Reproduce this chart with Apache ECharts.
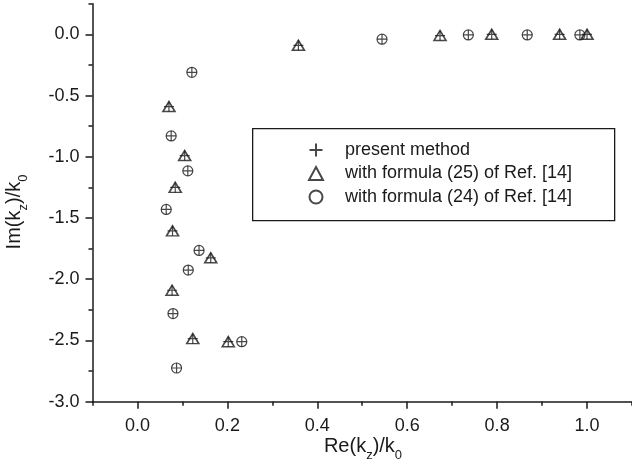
<!DOCTYPE html>
<html>
<head>
<meta charset="utf-8">
<script src="https://cdn.jsdelivr.net/npm/echarts@6/dist/echarts.min.js"></script>
<style>
html,body{margin:0;padding:0;background:#fff;}
#chart{width:632px;height:470px;}
</style>
</head>
<body>
<div id="chart"></div>
<script>
// ---- data ----
var seriesNames = ['present method', 'with formula (25) of Ref. [14]', 'with formula (24) of Ref. [14]'];

var tri25X = [0.358, 0.070, 0.105, 0.084, 0.078, 0.163, 0.077, 0.123, 0.202, 0.673, 0.788, 0.939, 1.000];
var tri25Y = [-0.09, -0.59, -0.99, -1.25, -1.605, -1.825, -2.09, -2.485, -2.51, -0.01, 0.0, 0.0, 0.0];

var circ24X = [0.121, 0.075, 0.112, 0.064, 0.137, 0.113, 0.079, 0.232, 0.087, 0.544, 0.736, 0.867, 0.984];
var circ24Y = [-0.31, -0.83, -1.115, -1.43, -1.765, -1.925, -2.28, -2.51, -2.725, -0.04, -0.005, -0.005, -0.005];

var presentX = [0.358, 0.070, 0.105, 0.084, 0.078, 0.163, 0.077, 0.123, 0.202, 0.673, 0.788, 0.939, 1.000,
                0.121, 0.075, 0.112, 0.064, 0.137, 0.113, 0.079, 0.232, 0.087, 0.544, 0.736, 0.867, 0.984];
var presentY = [-0.09, -0.59, -0.99, -1.25, -1.605, -1.825, -2.09, -2.485, -2.51, -0.01, 0.0, 0.0, 0.0,
                -0.31, -0.83, -1.115, -1.43, -1.765, -1.925, -2.28, -2.51, -2.725, -0.04, -0.005, -0.005, -0.005];

var xMajorTicks = [0.0, 0.2, 0.4, 0.6, 0.8, 1.0];
var xMinorTicks = [-0.1, 0.1, 0.3, 0.5, 0.7, 0.9, 1.1];
var yMajorTicks = [-3.0, -2.5, -2.0, -1.5, -1.0, -0.5, 0.0];
var yMinorTicks = [-2.75, -2.25, -1.75, -1.25, -0.75, -0.25, 0.25];

function pairs(xs, ys) { return xs.map(function (x, i) { return [x, ys[i]]; }); }

var ink = '#1a1a1a';
var fontFam = '"Liberation Sans", Arial, sans-serif';

var chart = echarts.init(document.getElementById('chart'), null, {renderer: 'canvas'});

var gridPos = {left: 92.5, top: 3.7, width: 541.5, height: 398};

var titleRich = {
  m: {fontSize: 20, lineHeight: 22, verticalAlign: 'top', fill: ink, fontFamily: fontFam},
  s: {fontSize: 13, lineHeight: 25, verticalAlign: 'bottom', fill: ink, fontFamily: fontFam}
};

var option = {
  animation: false,
  backgroundColor: '#ffffff',
  grid: gridPos,
  xAxis: [{
    type: 'value', min: -0.1, max: 1.1,
    axisLine: {show: true, onZero: false, lineStyle: {color: ink, width: 1.5}},
    axisTick: {show: true, inside: false, length: 7, customValues: xMajorTicks, lineStyle: {color: ink, width: 1.5}},
    axisLabel: {show: true, customValues: xMajorTicks, margin: 15, fontSize: 18, color: ink, fontFamily: fontFam,
      formatter: function (v) { return v.toFixed(1); }},
    splitLine: {show: false}
  }, {
    type: 'value', min: -0.1, max: 1.1, position: 'bottom',
    axisLine: {show: false, onZero: false},
    axisTick: {show: true, inside: false, length: 4, customValues: xMinorTicks, lineStyle: {color: ink, width: 1.5}},
    axisLabel: {show: false},
    splitLine: {show: false}
  }],
  yAxis: [{
    type: 'value', min: -3.0, max: 0.25,
    axisLine: {show: true, onZero: false, lineStyle: {color: ink, width: 1.5}},
    axisTick: {show: true, inside: false, length: 7, customValues: yMajorTicks, lineStyle: {color: ink, width: 1.5}},
    axisLabel: {show: true, customValues: yMajorTicks, margin: 13, fontSize: 18, color: ink, fontFamily: fontFam,
      formatter: function (v) { return v.toFixed(1); }},
    splitLine: {show: false}
  }, {
    type: 'value', min: -3.0, max: 0.25, position: 'left',
    axisLine: {show: false, onZero: false},
    axisTick: {show: true, inside: false, length: 4, customValues: yMinorTicks, lineStyle: {color: ink, width: 1.5}},
    axisLabel: {show: false},
    splitLine: {show: false}
  }],
  legend: {
    show: true,
    orient: 'vertical',
    left: 308, top: 140,
    padding: 0,
    itemGap: 3.5,
    itemWidth: 14, itemHeight: 13,
    data: seriesNames,
    textStyle: {fontSize: 18, lineHeight: 20, color: ink, fontFamily: fontFam, padding: [0, 0, 0, 17]},
    selectedMode: false
  },
  graphic: [
    {type: 'rect', left: 252, top: 128, z: 0,
      shape: {width: 362, height: 92}, style: {fill: '#fff', stroke: ink, lineWidth: 1.3}},
    {type: 'text', x: 363, y: 449, style: {
      text: '{m|Re(k}{s|z}{m|)/k}{s|0}', align: 'center', verticalAlign: 'middle', rich: titleRich}},
    {type: 'text', x: 17, y: 212, rotation: Math.PI / 2, style: {
      text: '{m|Im(k}{s|z}{m|)/k}{s|0}', align: 'center', verticalAlign: 'middle', rich: titleRich}}
  ],
  series: [
    {name: seriesNames[0], type: 'scatter', xAxisIndex: 0, yAxisIndex: 0, z: 4,
      symbol: 'path://M5,0L5,10M0,5L10,5', symbolSize: 10,
      itemStyle: {color: 'rgba(0,0,0,0)', borderColor: ink, borderWidth: 1.2},
      data: pairs(presentX, presentY)},
    {name: seriesNames[1], type: 'scatter', xAxisIndex: 0, yAxisIndex: 0, z: 3,
      symbol: 'triangle', symbolSize: [12, 10],
      itemStyle: {color: 'rgba(0,0,0,0)', borderColor: ink, borderWidth: 1.6},
      data: pairs(tri25X, tri25Y)},
    {name: seriesNames[2], type: 'scatter', xAxisIndex: 0, yAxisIndex: 0, z: 3,
      symbol: 'circle', symbolSize: 10,
      itemStyle: {color: 'rgba(0,0,0,0)', borderColor: ink, borderWidth: 1.2},
      data: pairs(circ24X, circ24Y)}
  ]
};
chart.setOption(option);
</script>
</body>
</html>
